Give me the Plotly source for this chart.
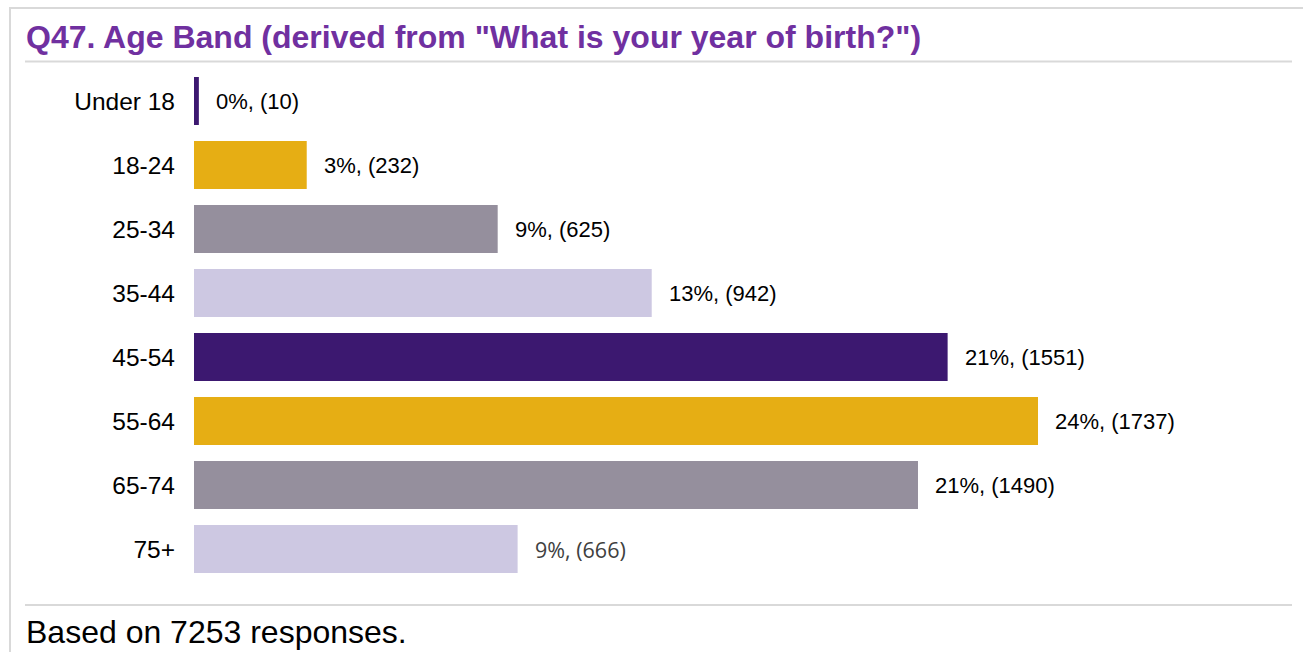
import plotly.graph_objects as go

categories = ["Under 18", "18-24", "25-34", "35-44", "45-54", "55-64", "65-74", "75+"]
counts = [10, 232, 625, 942, 1551, 1737, 1490, 666]
percents = [0, 3, 9, 13, 21, 24, 21, 9]
colors = ["#3c1870", "#e6ae14", "#958f9d", "#cdc8e2",
          "#3c1870", "#e6ae14", "#958f9d", "#cdc8e2"]
title_text = 'Q47. Age Band (derived from "What is your year of birth?")'
footer_text = "Based on 7253 responses."

W, H = 1303, 652
L, R, T, B = 194, 13, 69, 71
PW, PH = W - L - R, H - T - B

def px(x):
    return (x - L) / PW

def py(y):
    return (H - B - y) / PH

FONT = "Arial, Liberation Sans, sans-serif"

fig = go.Figure()
fig.add_trace(go.Bar(
    x=counts, y=categories, orientation="h",
    marker=dict(color=colors, line=dict(width=0)),
    hoverinfo="skip", showlegend=False,
))

annotations = []
for i, (c, cnt, p) in enumerate(zip(categories, counts, percents)):
    last = i == len(categories) - 1
    annotations.append(dict(
        x=cnt, y=c, xref="x", yref="y", text=f"{p}%, ({cnt})",
        showarrow=False, xanchor="left", yanchor="middle", xshift=15,
        font=dict(family="Open Sans, sans-serif" if last else FONT,
                  size=21.5 if last else 22,
                  color="#404040" if last else "#000000"),
    ))

annotations.append(dict(
    x=px(24), y=py(37), xref="paper", yref="paper", text=f"<b>{title_text}</b>",
    showarrow=False, xanchor="left", yanchor="middle",
    font=dict(family=FONT, size=32, color="#7030a0"),
))
annotations.append(dict(
    x=px(24), y=py(632), xref="paper", yref="paper", text=footer_text,
    showarrow=False, xanchor="left", yanchor="middle",
    font=dict(family=FONT, size=32, color="#000000"),
))

line_style = dict(color="#d9d9d9", width=2)
shapes = [
    dict(type="line", xref="paper", yref="paper", x0=px(9), x1=px(1303), y0=py(8), y1=py(8), line=line_style),
    dict(type="line", xref="paper", yref="paper", x0=px(10), x1=px(10), y0=py(8), y1=py(652), line=line_style),
    dict(type="line", xref="paper", yref="paper", x0=px(25), x1=px(1292), y0=py(61.5), y1=py(61.5), line=line_style),
    dict(type="line", xref="paper", yref="paper", x0=px(25), x1=px(1292), y0=py(605), y1=py(605), line=line_style),
]

fig.update_layout(
    width=W, height=H,
    margin=dict(l=L, r=R, t=T, b=B, pad=0),
    paper_bgcolor="white", plot_bgcolor="white",
    bargap=0.25,
    annotations=annotations, shapes=shapes,
    xaxis=dict(range=[0, PW / 0.4859], visible=False, fixedrange=True),
    yaxis=dict(autorange="reversed", showgrid=False, zeroline=False, showline=False,
               ticks="", ticklabelstandoff=18,
               tickfont=dict(family=FONT, size=24.5, color="#000000"), fixedrange=True),
    font=dict(family=FONT),
)

fig.write_html("out.html", config={"displayModeBar": False})
